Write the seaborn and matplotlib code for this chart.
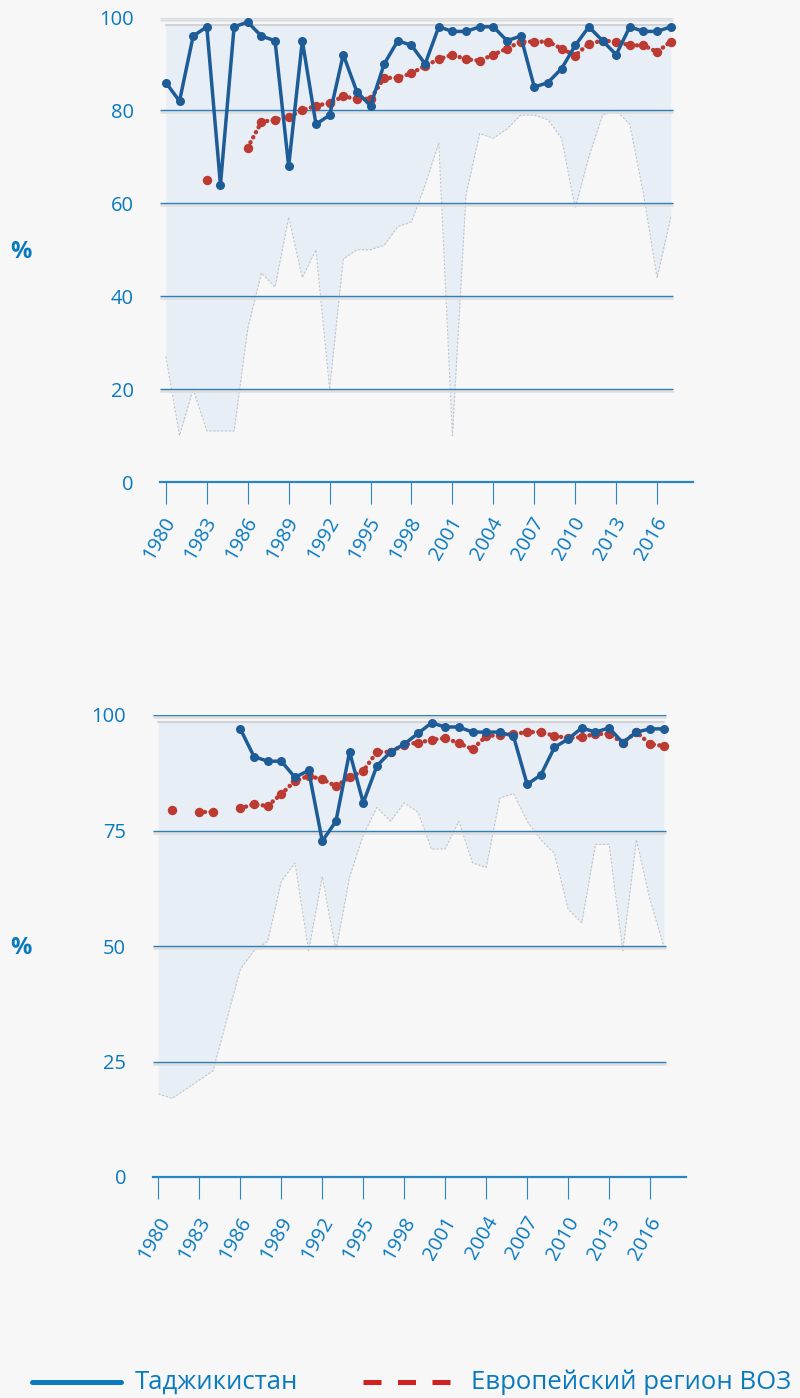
import numpy as np
import pandas as pd
import matplotlib
matplotlib.use("Agg")
import matplotlib.pyplot as plt
import matplotlib.transforms as mtransforms
from matplotlib.lines import Line2D
import seaborn as sns

nan = np.nan

years = list(range(1980, 2018))
tick_years = list(range(1980, 2017, 3))

# upper panel
tj_top = [86, 82, 96, 98, 64, 98, 99, 96, 95, 68,
          95, 77, 79, 92, 84, 81, 90, 95, 94, 90,
          98, 97, 97, 98, 98, 95, 96, 85, 86, 89,
          94, 98, 95, 92, 98, 97, 97, 98]
eu_top = [nan, nan, nan, 65, nan, nan, 72, 77.5, 78, 78.6,
          80, 81, 81.6, 83, 82.5, 82.5, 87, 87, 88, 89.6,
          91, 92, 91, 90.7, 92, 93.3, 94.8, 94.8, 94.8, 93.3,
          91.8, 94.4, 95, 94.8, 94, 94, 92.6, 94.8]
band_lo_top = [27, 10, 20, 11, 11, 11, 33, 45, 42, 57,
               44, 50, 20, 48, 50, 50, 51, 55, 56, 64,
               73, 10, 62, 75, 74, 76, 79, 79, 78, 74,
               59, 70, 79, 80, 77, 62, 44, 57]
band_hi_top = 98.4
yticks_top = [0, 20, 40, 60, 80, 100]

# lower panel
tj_bot = [nan, nan, nan, nan, nan, nan, 97, 91, 90, 90,
          86.5, 88, 72.7, 77, 92, 81, 89, 92, 93.7, 96,
          98.3, 97.4, 97.4, 96.3, 96.3, 96.3, 95.4, 85, 87, 93,
          94.8, 97.2, 96.3, 97.2, 94, 96.3, 97, 97]
eu_bot = [nan, 79.4, nan, 79, 79, nan, 79.8, 80.7, 80.3, 82.9,
          85.7, 86.8, 86.1, 84.6, 86.5, 87.9, 92, 92, 93.6, 94,
          94.6, 95, 93.9, 92.6, 95.4, 95.7, 95.9, 96.3, 96.3, 95.5,
          95, 95.2, 95.9, 95.9, 94, 96.3, 93.7, 93.3]
band_lo_bot = [18, 17, 19, 21, 23, 34, 45, 49, 51, 64,
               68, 49, 65, 49, 65, 74, 80, 77, 81, 79,
               71, 71, 77, 68, 67, 82, 83, 77, 73, 70,
               58, 55, 72, 72, 49, 73, 60, 50]
band_hi_bot = 98.4
yticks_bot = [0, 25, 50, 75, 100]

legend_labels = ["Таджикистан", "Европейский регион ВОЗ"]

BG = "#f7f7f7"
TXT = "#0a7abf"
AXIS = "#2a86c3"
GRID = "#2f7fb8"
BAND = "#e8eef5"
TJ = "#1d5c97"
EU = "#bb3b33"

sns.set_theme(style="white")
plt.rcParams["font.family"] = ["Open Sans", "DejaVu Sans"]


def to_frame(vals):
    # split a series at its gaps so seaborn draws separate pieces
    df = pd.DataFrame({"year": years, "value": vals})
    df["seg"] = df["value"].isna().cumsum()
    return df.dropna()


def draw_panel(ax, tj, eu, lo, hi, yticks, label_pad, label_shift):
    ax.set_facecolor(BG)
    x0, x1 = 1979.57, 2018.63
    ax.set_xlim(x0, x1)
    ax.set_ylim(0, 100)

    # range band
    ax.fill_between(years, lo, hi, color=BAND, lw=0, zorder=1)
    ax.plot(years, lo, color="#c2c6ca", lw=0.8, ls=(0, (2, 1.5)), zorder=1.5)
    ax.plot(years, [hi] * len(years), color="#cfd2d6", lw=1.5, zorder=1.5)

    # grid lines with soft shadow
    for t in yticks[1:]:
        ax.hlines(t - 0.45, x0, 2017.2, color="#dedede", lw=1.8, zorder=2)
        ax.hlines(t, x0, 2017.2, color=GRID, lw=1.0, zorder=2.1)

    sns.lineplot(data=to_frame(eu), x="year", y="value", units="seg",
                 estimator=None, color=EU, lw=3.2, ls=(0, (0.05, 1.25)),
                 dash_capstyle="round", marker="o", ms=6.8, mec=EU, mew=0,
                 ax=ax, legend=False, zorder=3)
    sns.lineplot(data=to_frame(tj), x="year", y="value", units="seg",
                 estimator=None, color=TJ, lw=2.5, marker="o", ms=6.5,
                 mec=TJ, mew=0, ax=ax, legend=False, zorder=4)

    for s in ["top", "right", "left"]:
        ax.spines[s].set_visible(False)
    ax.spines["bottom"].set_color(AXIS)
    ax.spines["bottom"].set_linewidth(1.6)

    ax.set_xticks(tick_years)
    ax.set_xticklabels([str(y) for y in tick_years], rotation=60,
                       ha="center", va="top")
    ax.tick_params(axis="x", direction="out", length=16, width=0.8,
                   color=AXIS, labelcolor=TXT, labelsize=14.5, pad=label_pad,
                   bottom=True)
    shift = mtransforms.ScaledTranslation(label_shift / 100, 0,
                                          ax.figure.dpi_scale_trans)
    for lab in ax.get_xticklabels():
        lab.set_transform(lab.get_transform() + shift)

    ax.set_yticks(yticks)
    ax.set_yticklabels([str(t) for t in yticks])
    ax.tick_params(axis="y", length=0, pad=19, labelcolor=TXT, labelsize=14.5)
    ax.set_xlabel("")
    ax.set_ylabel("")


fig = plt.figure(figsize=(8, 13.98), dpi=100, facecolor=BG)

ax1 = fig.add_axes([160 / 800, 1 - 482 / 1398, 533 / 800, 464.5 / 1398])
draw_panel(ax1, tj_top, eu_top, band_lo_top, band_hi_top, yticks_top, 7, -6)

ax2 = fig.add_axes([152.5 / 800, 1 - 1177 / 1398, 533.5 / 800, 462 / 1398])
draw_panel(ax2, tj_bot, eu_bot, band_lo_bot, band_hi_bot, yticks_bot, 10, -4.5)

for ypx in [252, 948]:
    fig.text(20.5 / 800, 1 - ypx / 1398, "%", fontsize=17, fontweight="bold",
             color=TXT, ha="center", va="center")

# legend
ly = 1 - 1382 / 1398
fig.add_artist(Line2D([32 / 800, 121 / 800], [ly, ly], color="#0a7abf", lw=3.6,
                      transform=fig.transFigure))
fig.text(135 / 800, ly, legend_labels[0], fontsize=18.5, color=TXT,
         ha="left", va="center")
fig.add_artist(Line2D([363 / 800, 452 / 800], [ly, ly], color="#d0201f", lw=3.6,
                      ls=(0, (3.6, 3.3)), transform=fig.transFigure))
fig.text(471 / 800, ly, legend_labels[1], fontsize=18.5, color=TXT,
         ha="left", va="center")

fig.savefig("out.png", dpi=100, facecolor=BG)
